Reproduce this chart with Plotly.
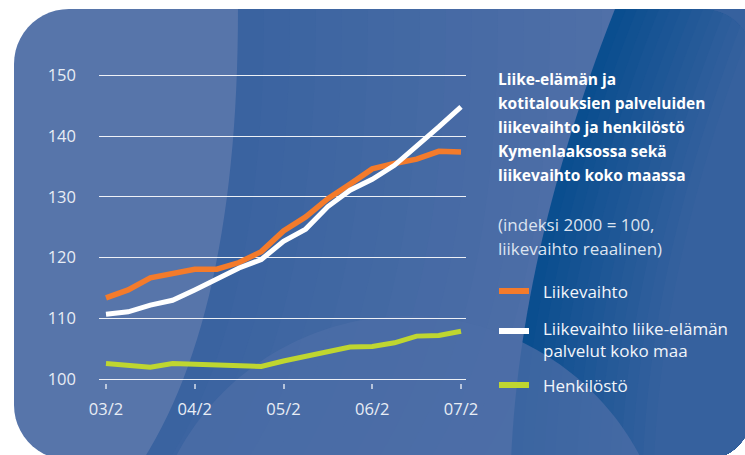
import numpy as np
import plotly.graph_objects as go

# quarterly index values (2000 = 100)
quarters = ["03/2", "03/3", "03/4", "04/1", "04/2", "04/3", "04/4", "05/1", "05/2",
            "05/3", "05/4", "06/1", "06/2", "06/3", "06/4", "07/1", "07/2"]
liikevaihto = [113.4, 114.7, 116.7, 117.3, 118.1, 118.1, 119.2, 121.0, 124.4,
               126.7, 129.7, 132.1, 134.6, 135.5, 136.2, 137.5, 137.4]
liikevaihto_koko_maa = [110.7, 111.1, 112.2, 113.0, 114.7, 116.4, 118.3, 119.7, 122.7,
                        124.7, 128.4, 131.1, 132.9, 135.2, 138.3, 141.5, 144.8]
henkilosto = [102.6, 102.3, 102.0, 102.6, 102.5, 102.4, 102.3, 102.1, 103.0,
              103.8, 104.4, 105.3, 105.4, 106.0, 107.1, 107.2, 107.9]
x_ticks = ["03/2", "04/2", "05/2", "06/2", "07/2"]
y_ticks = [100, 110, 120, 130, 140, 150]

title_lines = ["Liike-elämän ja", "kotitalouksien palveluiden", "liikevaihto ja henkilöstö",
               "Kymenlaaksossa sekä", "liikevaihto koko maassa"]
note_lines = ["(indeksi 2000 = 100,", "liikevaihto reaalinen)"]
series_names = ["Liikevaihto", "Liikevaihto liike-elämän<br>palvelut koko maa", "Henkilöstö"]

ORANGE = "#F47B2B"
WHITE = "#FFFFFF"
GREEN = "#BFD630"
FONT = "Open Sans"

W, H = 745, 455
ML, MR, MT, MB = 99, 279, 72, 72
PW, PH = W - ML - MR, H - MT - MB


def to_paper(x, y):
    return (x - ML) / PW, (H - MB - y) / PH


def svg(points):
    pts = [to_paper(x, y) for x, y in points]
    return "M" + "L".join(f"{a:.4f},{b:.4f}" for a, b in pts) + "Z"


def arc(cx, cy, r, a0, a1, n=14):
    t = np.radians(np.linspace(a0, a1, n))
    return list(zip(cx + r * np.cos(t), cy + r * np.sin(t)))


def bezier(p0, p1, p2, n=30):
    t = np.linspace(0, 1, n)[:, None]
    p0, p1, p2 = map(np.array, (p0, p1, p2))
    pts = (1 - t) ** 2 * p0 + 2 * (1 - t) * t * p1 + t ** 2 * p2
    return [tuple(p) for p in pts]


# card: left 14, top 9, right 752, bottom 460
card = (arc(69, 64, 55, 180, 270) + arc(704, 57, 48, 270, 360)
        + arc(704, 412, 48, 0, 90) + arc(69, 405, 55, 90, 180))


def right_part(boundary):
    return boundary + [(704, 460)] + arc(704, 412, 48, 90, 0) + arc(704, 57, 48, 0, -90)


def mix(c0, c1, f):
    c = [round(a + (b - a) * f) for a, b in zip(c0, c1)]
    return f"rgb({c[0]},{c[1]},{c[2]})"


shapes = [dict(type="path", path=svg(card), xref="paper", yref="paper",
               fillcolor="#5775AA", line_width=0, layer="below")]

# middle band, lighter towards the right
mid = bezier((238, 9), (238, 310), (143, 460))
for k in range(15):
    dx = k * 26
    shapes.append(dict(type="path", path=svg(right_part([(x + dx, y) for x, y in mid])),
                       xref="paper", yref="paper", line_width=0, layer="below",
                       fillcolor=mix((58, 99, 160), (80, 112, 168), k / 14)))

# dark band on the right
dark = bezier((615, 9), (520, 250), (511, 460))
for k in range(14):
    dx = k * 11
    shapes.append(dict(type="path", path=svg(right_part([(x + dx, y) for x, y in dark])),
                       xref="paper", yref="paper", line_width=0, layer="below",
                       fillcolor=mix((10, 78, 143), (54, 97, 158), k / 13)))

# big faint circle at the bottom
circ = [(x, y) for x, y in arc(408, 578, 262, 180, 360, 120) if y <= 460]
circ = [(circ[0][0], 460)] + circ + [(circ[-1][0], 460)]
shapes.append(dict(type="path", path=svg(circ), xref="paper", yref="paper", line_width=0,
                   layer="below", fillcolor="rgba(76,109,167,0.75)"))

fig = go.Figure()
for vals, name, color, w in [(henkilosto, series_names[2], GREEN, 5),
                             (liikevaihto, series_names[0], ORANGE, 5.5),
                             (liikevaihto_koko_maa, series_names[1], WHITE, 5)]:
    fig.add_trace(go.Scatter(x=quarters, y=vals, mode="lines", name=name,
                             line=dict(color=color, width=w), showlegend=False))

ann = []
for i, line in enumerate(title_lines):
    ann.append(dict(text=f"<b>{line}</b>", y=to_paper(0, 79 + 24 * i)[1], x=to_paper(496, 0)[0],
                    font=dict(size=15.5, color="white")))
for i, line in enumerate(note_lines):
    ann.append(dict(text=line, y=to_paper(0, 224 + 24 * i)[1], x=to_paper(496, 0)[0],
                    font=dict(size=17, color="#DDE4F0")))

legend_rows = [(series_names[0], ORANGE, 291, 291),
               (series_names[1], WHITE, 331, 339.5),
               (series_names[2], GREEN, 385, 385)]
for name, color, ly, ty in legend_rows:
    x0, y0 = to_paper(499, ly)
    x1, _ = to_paper(529, ly)
    shapes.append(dict(type="line", x0=x0, x1=x1, y0=y0, y1=y0, xref="paper", yref="paper",
                       line=dict(color=color, width=6)))
    ann.append(dict(text=name, y=to_paper(0, ty)[1], x=to_paper(541, 0)[0], align="left",
                    font=dict(size=17, color="#F2F5FA")))

for a in ann:
    a.update(xref="paper", yref="paper", xanchor="left", yanchor="middle", showarrow=False)
    a["font"]["family"] = FONT

fig.update_layout(
    width=W, height=H,
    margin=dict(l=ML, r=MR, t=MT, b=MB),
    paper_bgcolor="white",
    plot_bgcolor="rgba(0,0,0,0)",
    font=dict(family=FONT, size=16, color="#E8EDF5"),
    shapes=shapes,
    annotations=ann,
    showlegend=False,
)
fig.update_xaxes(type="category", range=[-0.315, 16.225], tickvals=x_ticks, ticktext=x_ticks,
                 showgrid=False, zeroline=False, showline=False,
                 ticks="outside", ticklen=5, tickwidth=1.5, tickcolor="rgba(255,255,255,0.6)",
                 ticklabelstandoff=6, tickfont=dict(size=16.5, color="#E8EDF5"))
fig.update_yaxes(range=[99.39, 150.54], tickvals=y_ticks, showgrid=True,
                 gridcolor="rgba(255,255,255,0.9)", gridwidth=1.2, zeroline=False,
                 showline=False, ticks="", ticklabelstandoff=22,
                 tickfont=dict(size=16.5, color="#E8EDF5"))

fig.write_html("out.html", config={"displayModeBar": False},
               post_script="document.body.style.margin='0';")
